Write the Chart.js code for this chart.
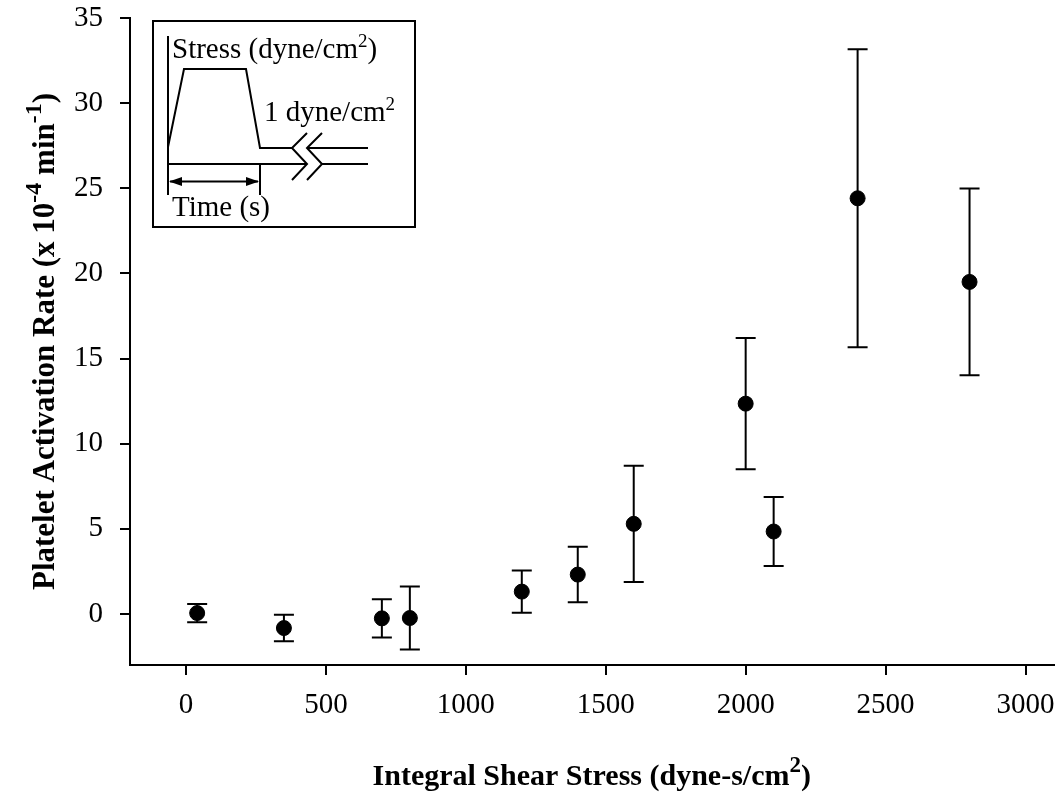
<!DOCTYPE html>
<html>
<head>
<meta charset="utf-8">
<script src="https://cdn.jsdelivr.net/npm/chart.js@4.4.1/dist/chart.umd.min.js"></script>
<style>
  html, body { margin: 0; padding: 0; background: #ffffff; }
  #wrap { width: 1062px; height: 799px; position: relative; }
</style>
</head>
<body>
<div id="wrap"><canvas id="chart" width="1062" height="799"></canvas></div>
<script>
// Integral shear stress (dyne-s/cm^2) for each exposure condition
const shearStress = [40, 350, 700, 800, 1200, 1400, 1600, 2000, 2100, 2400, 2800];
// Mean platelet activation rate (x 10^-4 min^-1)
const activationRate = [0.05, -0.83, -0.26, -0.24, 1.31, 2.31, 5.29, 12.35, 4.84, 24.41, 19.5];
// Standard error of each mean
const rateError = [0.54, 0.78, 1.12, 1.85, 1.24, 1.63, 3.41, 3.85, 2.03, 8.75, 5.48];
// Axis tick values
const xTickValues = [0, 500, 1000, 1500, 2000, 2500, 3000];
const yTickValues = [0, 5, 10, 15, 20, 25, 30, 35];

const SERIF = '"Liberation Serif", "Times New Roman", serif';

// Draw a run of text segments, some raised as superscripts
function drawRich(ctx, segs, x, y, align) {
  let total = 0;
  const widths = segs.map(s => {
    ctx.font = s.font;
    const w = ctx.measureText(s.t).width;
    total += w;
    return w;
  });
  let cx = align === 'center' ? x - total / 2 : x;
  ctx.textBaseline = 'alphabetic';
  ctx.textAlign = 'left';
  segs.forEach((s, i) => {
    ctx.font = s.font;
    ctx.fillText(s.t, cx, y - (s.raise || 0));
    cx += widths[i];
  });
}

const errorBars = {
  id: 'errorBars',
  beforeDatasetsDraw(chart) {
    const ctx = chart.ctx;
    const xs = chart.scales.x, ys = chart.scales.y;
    ctx.save();
    ctx.strokeStyle = '#000';
    ctx.lineWidth = 2;
    shearStress.forEach((xv, i) => {
      const px = xs.getPixelForValue(xv);
      const top = ys.getPixelForValue(activationRate[i] + rateError[i]);
      const bot = ys.getPixelForValue(activationRate[i] - rateError[i]);
      ctx.beginPath();
      ctx.moveTo(px, top); ctx.lineTo(px, bot);
      ctx.moveTo(px - 10, top); ctx.lineTo(px + 10, top);
      ctx.moveTo(px - 10, bot); ctx.lineTo(px + 10, bot);
      ctx.stroke();
    });
    ctx.restore();
  }
};

const axisTitles = {
  id: 'axisTitles',
  afterDraw(chart) {
    const ctx = chart.ctx;
    const a = chart.chartArea;
    const bold = 'bold 30px ' + SERIF;
    const boldSup = 'bold 23px ' + SERIF;
    ctx.save();
    ctx.fillStyle = '#000';
    drawRich(ctx, [
      { t: 'Integral Shear Stress (dyne-s/cm', font: bold },
      { t: '2', font: boldSup, raise: 13 },
      { t: ')', font: bold }
    ], (a.left + a.right) / 2, 785, 'center');

    ctx.translate(54, (a.top + a.bottom) / 2);
    ctx.rotate(-Math.PI / 2);
    const yBold = 'bold 31px ' + SERIF;
    const ySup = 'bold 24px ' + SERIF;
    drawRich(ctx, [
      { t: 'Platelet Activation Rate (x 10', font: yBold },
      { t: '-4', font: ySup, raise: 13 },
      { t: ' min', font: yBold },
      { t: '-1', font: ySup, raise: 13 },
      { t: ')', font: yBold }
    ], 0, 0, 'center');
    ctx.restore();
  }
};

// Schematic of the applied stress waveform
const stressInset = {
  id: 'stressInset',
  afterDraw(chart) {
    const ctx = chart.ctx;
    const a = chart.chartArea;
    const L = a.left + 23, T = a.top + 3;
    const line = pts => {
      ctx.beginPath();
      ctx.moveTo(L + pts[0][0], T + pts[0][1]);
      for (let i = 1; i < pts.length; i++) ctx.lineTo(L + pts[i][0], T + pts[i][1]);
      ctx.stroke();
    };
    ctx.save();
    ctx.strokeStyle = '#000';
    ctx.fillStyle = '#000';
    ctx.lineWidth = 2;
    ctx.strokeRect(L, T, 262, 206);

    // stress axis and waveform
    line([[15, 15], [15, 174]]);
    line([[15, 126], [31, 48], [93, 48], [107, 127], [139, 127]]);
    line([[154, 127], [215, 127]]);
    // time axis
    line([[15, 143], [154, 143]]);
    line([[169, 143], [215, 143]]);
    // axis break marks
    line([[154, 112], [139, 127], [154, 143], [139, 159]]);
    line([[169, 112], [154, 127], [169, 143], [154, 159]]);
    // duration arrow
    line([[107, 143], [107, 174]]);
    line([[17, 160.5], [105, 160.5]]);
    ctx.beginPath();
    ctx.moveTo(L + 16, T + 160.5); ctx.lineTo(L + 29, T + 156); ctx.lineTo(L + 29, T + 165); ctx.closePath(); ctx.fill();
    ctx.beginPath();
    ctx.moveTo(L + 106, T + 160.5); ctx.lineTo(L + 93, T + 156); ctx.lineTo(L + 93, T + 165); ctx.closePath(); ctx.fill();

    const reg = '29px ' + SERIF;
    const sup = '19px ' + SERIF;
    drawRich(ctx, [
      { t: 'Stress (dyne/cm', font: reg },
      { t: '2', font: sup, raise: 11 },
      { t: ')', font: reg }
    ], L + 19, T + 37, 'left');
    drawRich(ctx, [
      { t: '1 dyne/cm', font: reg },
      { t: '2', font: sup, raise: 11 }
    ], L + 111, T + 100, 'left');
    drawRich(ctx, [{ t: 'Time (s)', font: reg }], L + 19, T + 195, 'left');
    ctx.restore();
  }
};

const tickFont = { family: SERIF, size: 29 };

new Chart(document.getElementById('chart'), {
  type: 'scatter',
  data: {
    datasets: [{
      data: shearStress.map((x, i) => ({ x: x, y: activationRate[i] })),
      backgroundColor: '#000',
      borderColor: '#000',
      borderWidth: 1,
      pointRadius: 7.5,
      pointHoverRadius: 7.5
    }]
  },
  options: {
    responsive: false,
    animation: false,
    devicePixelRatio: 1,
    layout: { padding: { top: 18, right: 6, left: 0, bottom: 0 } },
    plugins: { legend: { display: false }, tooltip: { enabled: false } },
    scales: {
      x: {
        type: 'linear',
        position: 'bottom',
        min: -200,
        max: 3100,
        afterBuildTicks: s => { s.ticks = xTickValues.map(v => ({ value: v })); },
        afterFit: s => { s.height = 134; s.paddingLeft = 0; s.paddingRight = 0; },
        ticks: { font: tickFont, color: '#000', padding: 13, maxRotation: 0, autoSkip: false, callback: v => String(v) },
        grid: { drawOnChartArea: false, drawTicks: true, tickLength: 10, color: '#000', lineWidth: 2 },
        border: { display: true, color: '#000', width: 2 }
      },
      y: {
        type: 'linear',
        min: -3,
        max: 35,
        afterBuildTicks: s => { s.ticks = yTickValues.map(v => ({ value: v })); },
        afterFit: s => { s.width = 130; s.paddingTop = 0; s.paddingBottom = 0; },
        ticks: { font: tickFont, color: '#000', padding: 17, autoSkip: false, callback: v => String(v) },
        grid: { drawOnChartArea: false, drawTicks: true, tickLength: 10, color: '#000', lineWidth: 2 },
        border: { display: true, color: '#000', width: 2 }
      }
    }
  },
  plugins: [errorBars, axisTitles, stressInset]
});
</script>
</body>
</html>
